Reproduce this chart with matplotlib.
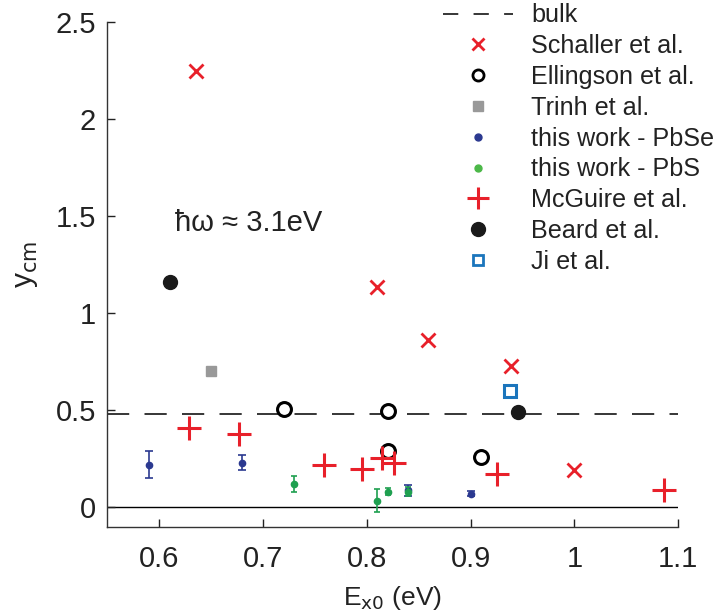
import matplotlib
matplotlib.use("Agg")
import matplotlib.pyplot as plt
from matplotlib.lines import Line2D

plt.rcParams['font.family'] = ['Liberation Sans', 'DejaVu Sans']
plt.rcParams['lines.scale_dashes'] = False

# Band-gap energy (eV) and y_cm values per data source
bulk_y = 0.482

schaller_x = [0.635, 0.81, 0.859, 0.939, 1.0]
schaller_y = [2.25, 1.133, 0.861, 0.726, 0.19]

ellingson_x = [0.72, 0.82, 0.82, 0.91]
ellingson_y = [0.508, 0.498, 0.29, 0.26]

trinh_x = [0.65]
trinh_y = [0.70]

pbse_x = [0.59, 0.68, 0.84, 0.90]
pbse_y = [0.22, 0.23, 0.088, 0.069]
pbse_err = [0.07, 0.04, 0.028, 0.013]

pbs_x = [0.73, 0.81, 0.82, 0.84]
pbs_y = [0.119, 0.034, 0.081, 0.081]
pbs_err = [0.04, 0.06, 0.02, 0.025]

mcguire_x = [0.629, 0.677, 0.759, 0.795, 0.815, 0.826, 0.925, 1.086]
mcguire_y = [0.407, 0.377, 0.216, 0.196, 0.256, 0.23, 0.169, 0.089]

beard_x = [0.61, 0.946]
beard_y = [1.163, 0.492]

ji_x = [0.938]
ji_y = [0.599]

xticks = [0.6, 0.7, 0.8, 0.9, 1.0, 1.1]
xtick_labels = ['0.6', '0.7', '0.8', '0.9', '1', '1.1']
yticks = [0, 0.5, 1.0, 1.5, 2.0, 2.5]
ytick_labels = ['0', '0.5', '1', '1.5', '2', '2.5']

RED = '#e8202a'
NAVY = '#2b3990'
GREEN = '#1fa050'
GREEN_LEG = '#4cb848'
GRAY = '#999999'
JIBLUE = '#1b75bc'
INK = '#222222'

fig = plt.figure(figsize=(7.2, 6.15), dpi=100)
ax = fig.add_axes([0.149, 0.1437, 0.793, 0.820])

ax.axhline(0, color='black', lw=1.0, zorder=1)
ax.axhline(bulk_y, color='black', lw=1.1, dashes=(16, 11), zorder=1)

ax.plot(schaller_x, schaller_y, 'x', color=RED, ms=9.5, mew=2, zorder=3)
ax.plot(ellingson_x, ellingson_y, 'o', mfc='white', mec='black', ms=10, mew=2.2, zorder=3)
ax.plot(trinh_x, trinh_y, 's', color=GRAY, ms=7.5, zorder=3)
ax.errorbar(pbse_x, pbse_y, yerr=pbse_err, fmt='o', color=NAVY, ms=4.5,
            elinewidth=1.2, capsize=3, capthick=1.2, zorder=4)
ax.errorbar(pbs_x, pbs_y, yerr=pbs_err, fmt='o', color=GREEN, ms=4.5,
            elinewidth=1.2, capsize=2, capthick=1.2, zorder=5)
ax.plot(mcguire_x, mcguire_y, '+', color=RED, ms=17, mew=2.2, zorder=3)
ax.plot(beard_x, beard_y, 'o', color='#1a1a1a', ms=10, zorder=3)
ax.plot(ji_x, ji_y, 's', mfc='white', mec=JIBLUE, ms=8, mew=2.2, zorder=3)

ax.set_xlim(0.55, 1.1)
ax.set_ylim(-0.1, 2.5)
ax.set_xticks(xticks)
ax.set_xticklabels(xtick_labels)
ax.set_yticks(yticks)
ax.set_yticklabels(ytick_labels)
ax.tick_params(direction='in', length=6, width=1, labelsize=21, colors=INK)
ax.tick_params(axis='x', pad=13)
ax.tick_params(axis='y', pad=8)
for side in ('top', 'right'):
    ax.spines[side].set_visible(False)
for side in ('left', 'bottom'):
    ax.spines[side].set_linewidth(1.0)
    ax.spines[side].set_color('#333333')

ax.set_xlabel(r'E$_{\mathrm{x0}}$ (eV)', fontsize=19, color=INK, labelpad=8)
ax.set_ylabel(r'y$_{\mathrm{cm}}$', fontsize=21.5, color=INK)
ax.yaxis.set_label_coords(-0.118, 0.52)

ax.text(0.6154, 1.464, 'ħω ≈ 3.1eV', fontsize=21, color=INK, va='center')

handles = [
    Line2D([], [], color='black', lw=1.1, dashes=(11, 11)),
    Line2D([], [], ls='none', marker='x', color=RED, ms=9, mew=2),
    Line2D([], [], ls='none', marker='o', mfc='white', mec='black', ms=8, mew=2),
    Line2D([], [], ls='none', marker='s', color=GRAY, ms=7.5),
    Line2D([], [], ls='none', marker='o', color=NAVY, ms=5),
    Line2D([], [], ls='none', marker='o', color=GREEN_LEG, ms=5),
    Line2D([], [], ls='none', marker='+', color=RED, ms=16, mew=2.2),
    Line2D([], [], ls='none', marker='o', color='#1a1a1a', ms=10),
    Line2D([], [], ls='none', marker='s', mfc='white', mec=JIBLUE, ms=7.5, mew=2),
]
labels = ['bulk', 'Schaller et al.', 'Ellingson et al.', 'Trinh et al.',
          'this work - PbSe', 'this work - PbS', 'McGuire et al.',
          'Beard et al.', 'Ji et al.']
fig.legend(handles, labels, loc='upper left', bbox_to_anchor=(0.591, 1.023),
           frameon=False, fontsize=18.1, handlelength=2.78, handletextpad=0.72,
           labelspacing=0.27, borderpad=0.2, labelcolor=INK)

fig.savefig('out.png', dpi=100)
